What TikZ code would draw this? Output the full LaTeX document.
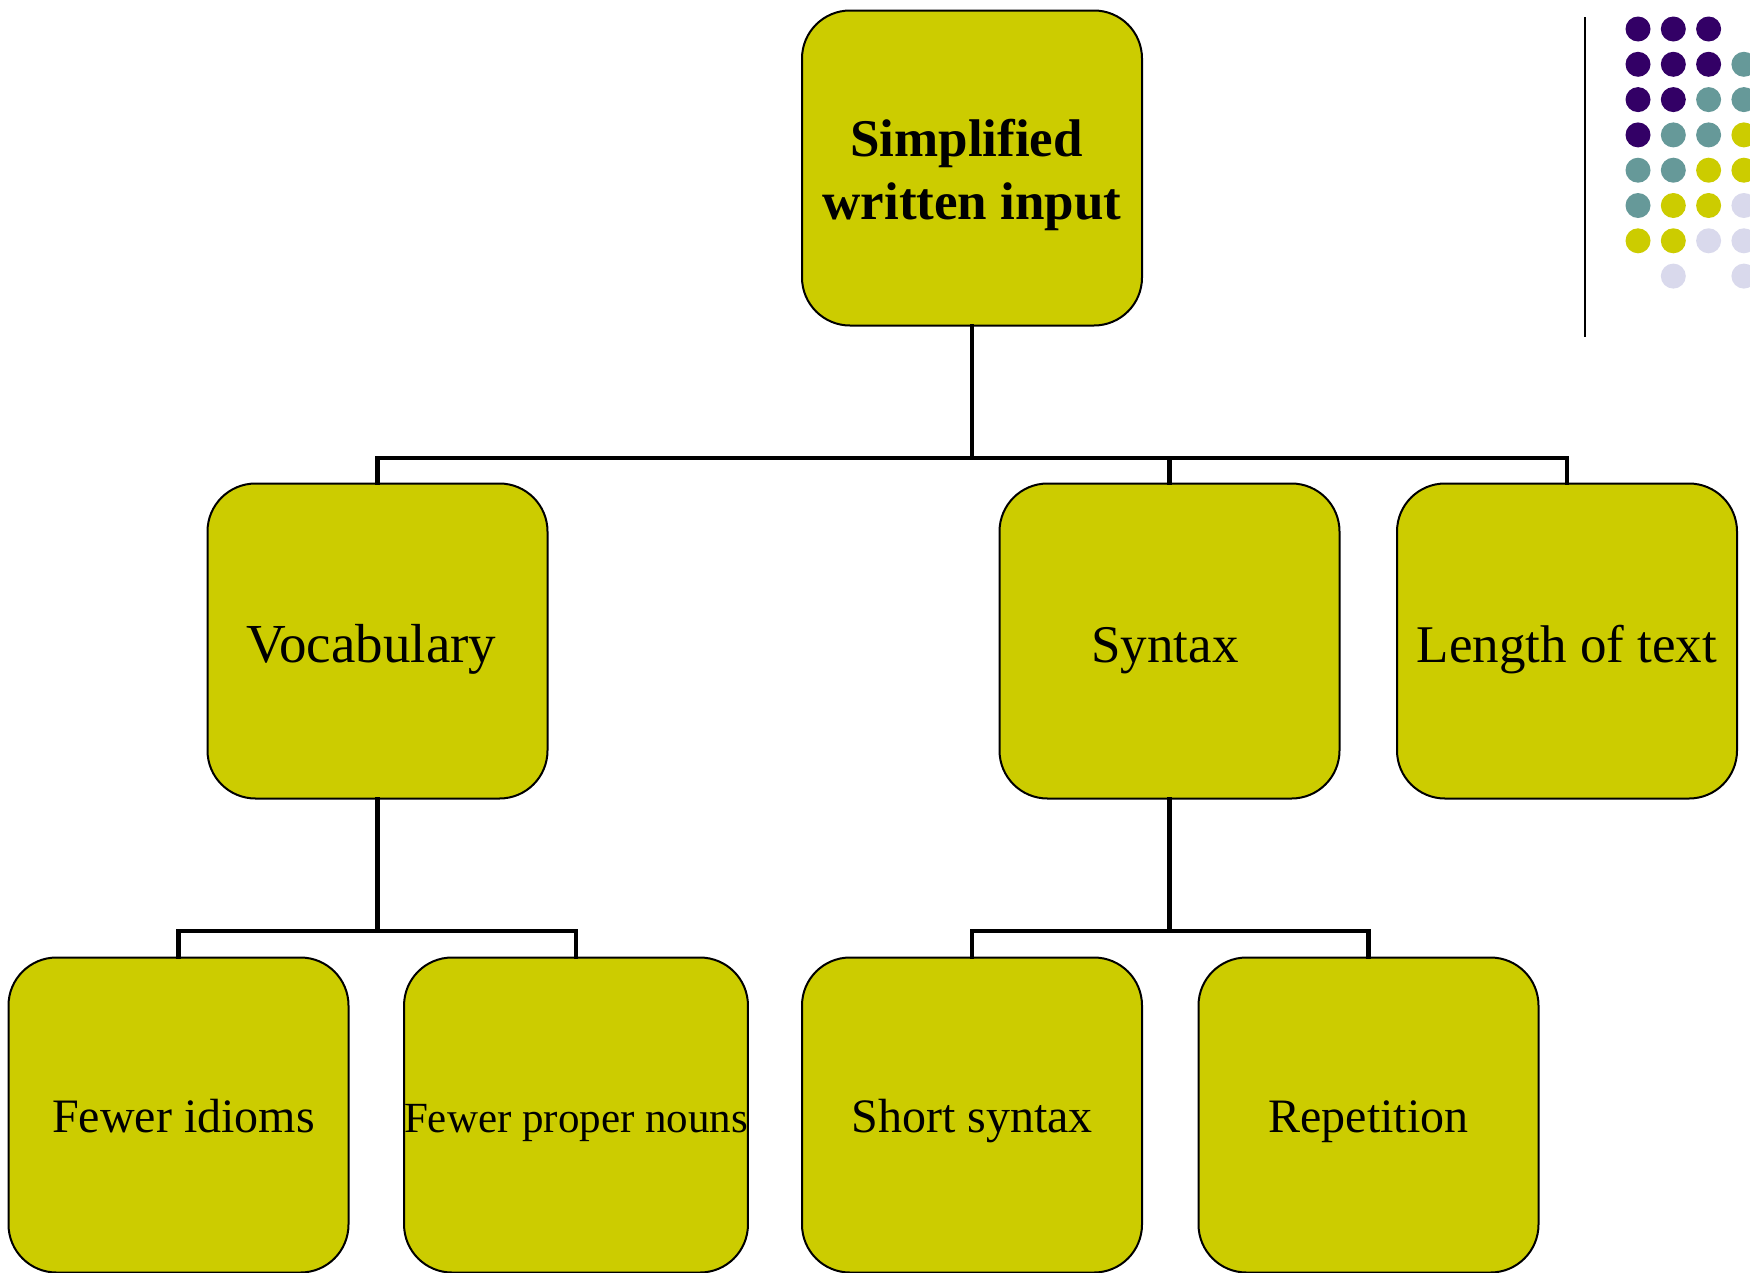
\documentclass[tikz,border=0pt]{standalone}
\usepackage{fontspec}
\setmainfont{Liberation Serif}
\definecolor{boxfill}{RGB}{204,204,0}
\definecolor{dpurple}{RGB}{51,0,102}
\definecolor{dteal}{RGB}{102,153,153}
\definecolor{dyellow}{RGB}{204,204,0}
\definecolor{dlav}{RGB}{217,217,236}
\begin{document}
\begin{tikzpicture}[x=1pt,y=-1pt,
  box/.style={draw=black,line width=2pt,fill=boxfill,rounded corners=48pt,
    minimum width=340pt,minimum height=315pt,inner sep=0pt,
    font=\fontsize{53}{63}\selectfont,text height=44pt,text depth=2pt},
  smallbox/.style={box,font=\fontsize{48}{57}\selectfont,text height=36pt,text depth=2pt},
  conn/.style={line width=4.5pt,line cap=rect,line join=miter}]
\useasboundingbox (0,0) rectangle (1750,1272);
% nodes
\node[box,font=\fontsize{53}{63}\selectfont\bfseries,text height=,text depth=] (top) at (972,168)
  {\raisebox{-7pt}[\height][\depth]{\begin{tabular}{@{}c@{}}Simplified\hspace*{11pt}\\written input\end{tabular}}};
\node[box,font=\fontsize{55}{66}\selectfont,text height=45pt] (voc) at (377.5,641) {Vocabulary\hspace*{12pt}};
\node[box] (syn) at (1169.5,641) {Syntax\hspace*{9pt}};
\node[box] (len) at (1567,641) {Length of text};
\node[smallbox] (idi) at (178.5,1115) {\hspace*{10pt}Fewer idioms};
\node[smallbox,font=\fontsize{43}{52}\selectfont] (pro) at (576,1115) {Fewer proper nouns};
\node[smallbox] (sho) at (972,1115) {Short syntax};
\node[smallbox] (rep) at (1368.5,1115) {Repetition};
% connectors
\coordinate (b1) at (0,458);
\coordinate (b2) at (0,931);
\draw[conn] (top.south) -- (top.south |- b1);
\draw[conn] (voc.north) -- (voc.north |- b1) -- (len.north |- b1) -- (len.north);
\draw[conn] (syn.north) -- (syn.north |- b1);
\draw[conn] (voc.south) -- (voc.south |- b2);
\draw[conn] (idi.north) -- (idi.north |- b2) -- (pro.north |- b2) -- (pro.north);
\draw[conn] (syn.south) -- (syn.south |- b2);
\draw[conn] (sho.north) -- (sho.north |- b2) -- (rep.north |- b2) -- (rep.north);
% decorative rule and dots
\draw[line width=2pt] (1585,17) -- (1585,337);
\foreach \c/\r/\col in {
  0/0/dpurple,1/0/dpurple,2/0/dpurple,
  0/1/dpurple,1/1/dpurple,2/1/dpurple,3/1/dteal,
  0/2/dpurple,1/2/dpurple,2/2/dteal,3/2/dteal,
  0/3/dpurple,1/3/dteal,2/3/dteal,3/3/dyellow,
  0/4/dteal,1/4/dteal,2/4/dyellow,3/4/dyellow,
  0/5/dteal,1/5/dyellow,2/5/dyellow,3/5/dlav,
  0/6/dyellow,1/6/dyellow,2/6/dlav,3/6/dlav,
  1/7/dlav,3/7/dlav}
  \fill[\col] ({1638+35.3*\c},{29+35.3*\r}) circle[radius=12.5pt];
\end{tikzpicture}
\end{document}
